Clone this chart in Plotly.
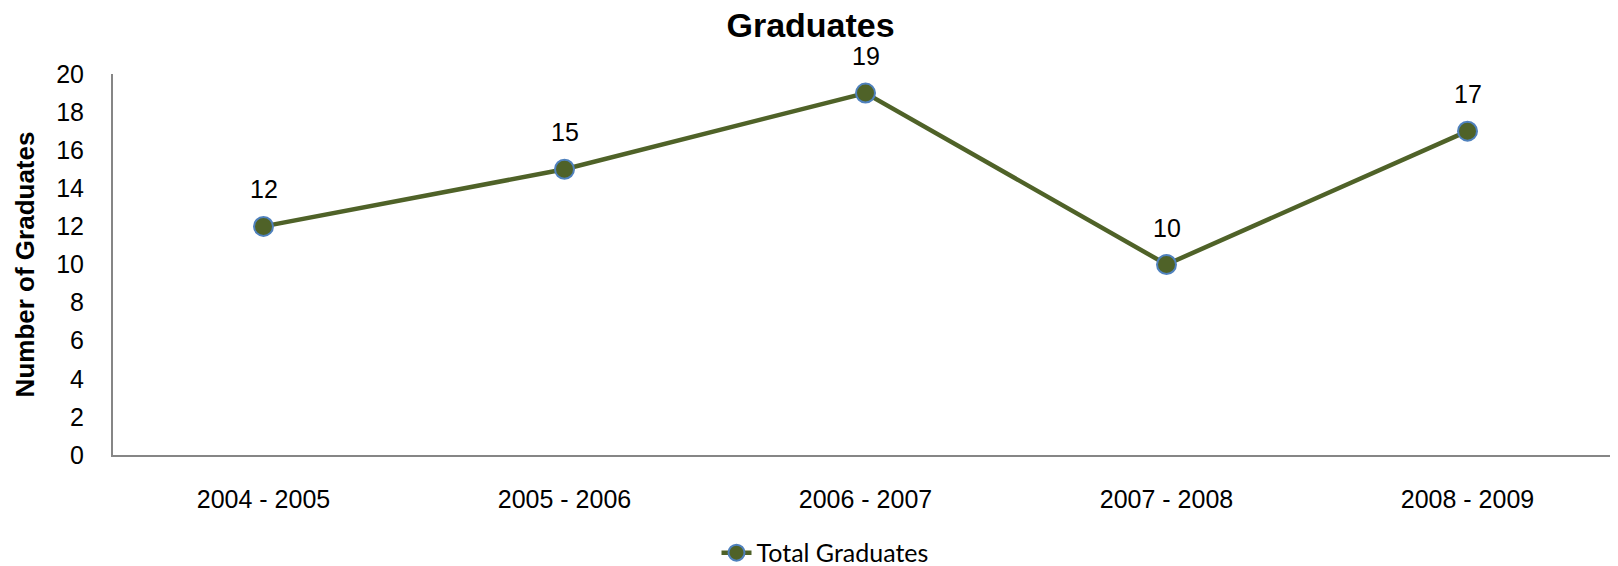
import plotly.graph_objects as go

categories = ["2004 - 2005", "2005 - 2006", "2006 - 2007", "2007 - 2008", "2008 - 2009"]
graduates = [12, 15, 19, 10, 17]
y_ticks = list(range(0, 21, 2))

LINE_COLOR = "#4F6228"
MARKER_EDGE = "#4F81BD"
AXIS_COLOR = "#868686"
FONT = "Liberation Sans, Arial, sans-serif"

# page body has an 8px default margin, so the figure is sized to fit the window
W, H = 1610, 558

fig = go.Figure()
fig.add_trace(go.Scatter(
    x=categories, y=graduates, name="Total Graduates",
    mode="lines+markers",
    line=dict(color=LINE_COLOR, width=4.5),
    marker=dict(size=19, color=LINE_COLOR, line=dict(color=MARKER_EDGE, width=2)),
))

for c, v in zip(categories, graduates):
    fig.add_annotation(x=c, y=v, text=str(v), showarrow=False, yshift=37,
                       font=dict(family=FONT, size=25, color="black"))

fig.update_layout(
    width=W, height=H,
    margin=dict(l=105, r=0, t=66, b=111, autoexpand=False),
    paper_bgcolor="white", plot_bgcolor="white",
    title=dict(text="<b>Graduates</b>", x=0.4985, xanchor="center", xref="container",
               y=(H - 17) / H, yanchor="middle", yref="container",
               font=dict(family=FONT, size=34, color="black")),
    showlegend=True,
    legend=dict(orientation="h", x=0.401, xanchor="left", y=-0.257, yanchor="middle",
                font=dict(family="Lato, Open Sans, sans-serif", size=25, color="black"),
                bgcolor="rgba(0,0,0,0)"),
    font=dict(family=FONT, color="black"),
)

fig.update_xaxes(
    type="category", range=[-0.5, 4.5], automargin=False,
    showline=True, linecolor=AXIS_COLOR, linewidth=2,
    showgrid=False, zeroline=False, ticks="",
    tickfont=dict(family=FONT, size=25, color="black"),
    ticklabelstandoff=21,
)
fig.update_yaxes(
    range=[0, 20], tickvals=y_ticks, automargin=False,
    showline=True, linecolor=AXIS_COLOR, linewidth=2,
    showgrid=False, zeroline=False, ticks="",
    tickfont=dict(family=FONT, size=25, color="black"),
    ticklabelstandoff=22,
    title=dict(text="<b>Number of Graduates</b>", standoff=14,
               font=dict(family=FONT, size=26, color="black")),
)

fig.write_html("out.html")
